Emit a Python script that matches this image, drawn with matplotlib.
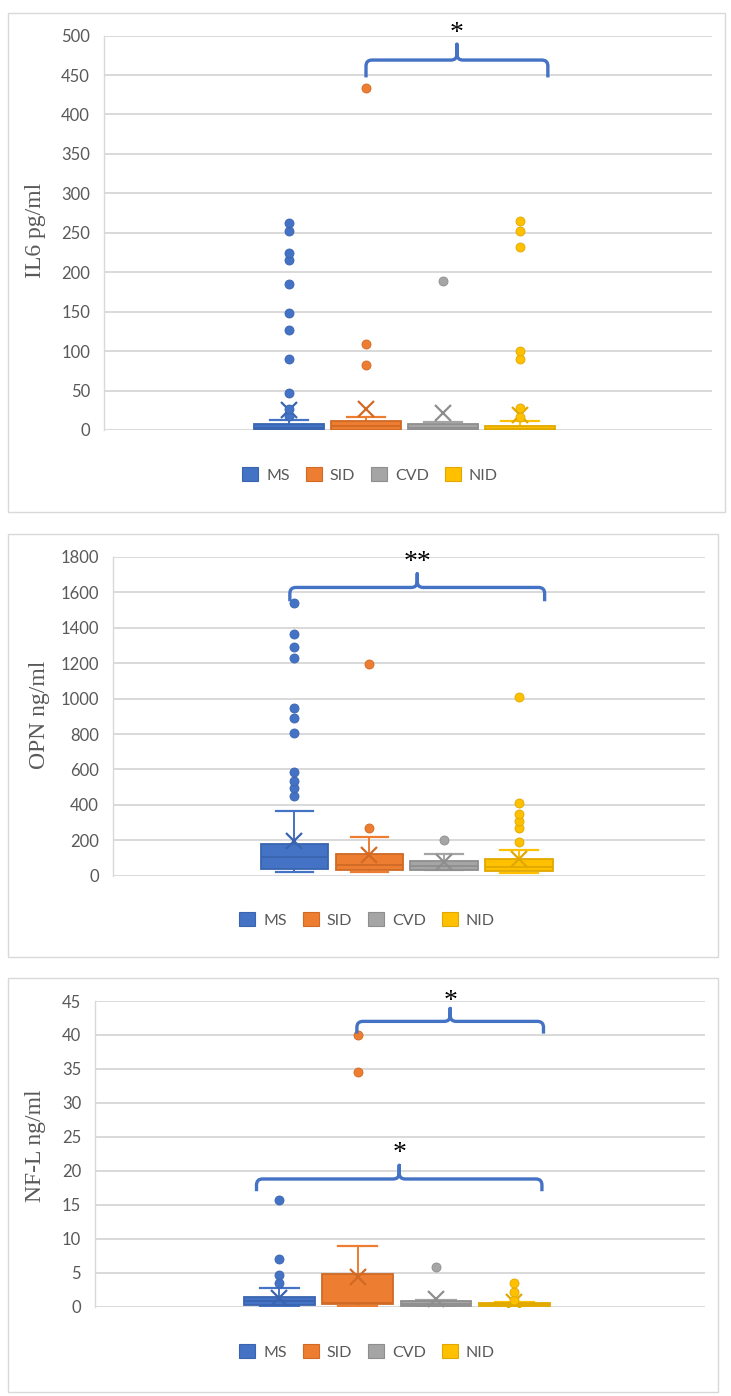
import matplotlib
matplotlib.use("Agg")
import matplotlib.pyplot as plt
from matplotlib.patches import Rectangle, Patch, PathPatch
from matplotlib.path import Path
from matplotlib.transforms import IdentityTransform

W, H = 731, 1396

groups = ["MS", "SID", "CVD", "NID"]
colors = ["#4472C4", "#ED7D31", "#A5A5A5", "#FFC000"]
edges = ["#3A64B0", "#D06A25", "#8E8E8E", "#E0A800"]

# ---- IL6 (pg/ml) ----
il6_whislo = [0, 0, 0, 0]
il6_q1 = [0.5, 0.5, 0.3, 0.3]
il6_med = [2, 5, 2, 1.5]
il6_q3 = [7.5, 11, 7.5, 5.5]
il6_whishi = [12.5, 17, 10.5, 11.5]
il6_mean = [25, 27, 21, 19]
il6_fliers = [
    [17.5, 27, 47, 90, 127, 148, 185, 216, 225, 252, 262],
    [82, 109, 433],
    [189],
    [17, 27.5, 90, 100, 232, 252, 265],
]

# ---- OPN (ng/ml) ----
opn_whislo = [19, 19, 30, 13]
opn_q1 = [38, 32, 32, 26]
opn_med = [103, 60, 56, 51]
opn_q3 = [178, 122, 85, 92]
opn_whishi = [366, 216, 120, 145]
opn_mean = [197, 116, 75, 92]
opn_fliers = [
    [451, 498, 535, 588, 806, 892, 948, 1230, 1292, 1367, 1540],
    [267, 1196],
    [199],
    [192, 267, 308, 346, 411, 1007],
]

# ---- NF-L (ng/ml) ----
nfl_whislo = [0.1, 0.1, 0.1, 0.1]
nfl_q1 = [0.25, 0.35, 0.1, 0.15]
nfl_med = [0.8, 0.6, 0.4, 0.35]
nfl_q3 = [1.5, 4.8, 0.8, 0.6]
nfl_whishi = [2.8, 8.9, 1.0, 0.75]
nfl_mean = [1.3, 4.3, 1.1, 0.7]
nfl_fliers = [
    [3.5, 4.7, 7.0, 15.7],
    [34.5, 40.0],
    [5.9],
    [1.0, 2.2, 3.5],
]

# significance brackets: (x_start, x_end, y_leg, y_bar, y_tip, label, y_label)
il6_brackets = [(2.0, 4.36, 447, 469, 489, "*", 503)]
opn_brackets = [(0.94, 4.34, 1550, 1628, 1705, "**", 1767)]
nfl_brackets = [(1.99, 4.37, 40.2, 42.0, 43.9, "*", 45.0),
                (0.71, 4.35, 17.0, 18.8, 20.8, "*", 22.5)]

panels = [
    dict(label="IL6 pg/ml", whislo=il6_whislo, q1=il6_q1, med=il6_med, q3=il6_q3,
         whishi=il6_whishi, mean=il6_mean, fliers=il6_fliers, ymax=500, step=50,
         plot=(104, 712, 35.6, 430), border=(8, 725, 13, 512), ylab=(35, 230),
         leg=(370, 475), xlim=(-1.4, 6.49), brackets=il6_brackets),
    dict(label="OPN ng/ml", whislo=opn_whislo, q1=opn_q1, med=opn_med, q3=opn_q3,
         whishi=opn_whishi, mean=opn_mean, fliers=opn_fliers, ymax=1800, step=200,
         plot=(113, 705, 557, 875.7), border=(8, 718, 534, 957), ylab=(40, 715),
         leg=(367, 920), xlim=(-1.42, 6.48), brackets=opn_brackets),
    dict(label="NF-L ng/ml", whislo=nfl_whislo, q1=nfl_q1, med=nfl_med, q3=nfl_q3,
         whishi=nfl_whishi, mean=nfl_mean, fliers=nfl_fliers, ymax=45, step=5,
         plot=(95, 705, 1001, 1306.7), border=(8, 718, 978, 1392), ylab=(35, 1146),
         leg=(367, 1352), xlim=(-1.35, 6.43), brackets=nfl_brackets),
]

fig = plt.figure(figsize=(W / 100, H / 100), dpi=100)
fig.patch.set_facecolor("white")

tick_font = "Lato"
grid_c = "#D9D9D9"
text_c = "#595959"

for p in panels:
    bl, br, bt, bb = p["border"]
    fig.patches.append(Rectangle((bl / W, 1 - bb / H), (br - bl) / W, (bb - bt) / H,
                                 transform=fig.transFigure, facecolor="none",
                                 edgecolor=grid_c, lw=1.0, zorder=-1))
    l, r, t, b = p["plot"]
    ax = fig.add_axes([l / W, 1 - b / H, (r - l) / W, (b - t) / H])
    ax.set_facecolor("none")
    ax.set_xlim(*p["xlim"])
    ax.set_ylim(0, p["ymax"])
    ax.set_yticks(range(0, p["ymax"] + 1, p["step"]))
    ax.yaxis.grid(True, color=grid_c, lw=1.4)
    ax.set_axisbelow(True)
    for s in ["top", "right", "bottom"]:
        ax.spines[s].set_visible(False)
    ax.spines["left"].set_color(grid_c)
    ax.spines["left"].set_linewidth(1.0)
    ax.tick_params(axis="y", length=0, pad=10, labelsize=12, labelcolor=text_c)
    for lab in ax.get_yticklabels():
        lab.set_fontfamily(tick_font)
    ax.set_xticks([])

    for i in range(4):
        stats = [dict(med=p["med"][i], q1=p["q1"][i], q3=p["q3"][i],
                      whislo=p["whislo"][i], whishi=p["whishi"][i],
                      mean=p["mean"][i], fliers=p["fliers"][i])]
        c, e = colors[i], edges[i]
        ax.bxp(stats, positions=[i + 1], widths=0.9, patch_artist=True,
               showmeans=True, manage_ticks=False,
               boxprops=dict(facecolor=c, edgecolor=e, lw=1.3, zorder=2),
               medianprops=dict(color=e, lw=1.3, zorder=3),
               whiskerprops=dict(color=c, lw=1.4, zorder=1.5),
               capprops=dict(color=c, lw=1.6, zorder=1.5),
               capwidths=0.5,
               meanprops=dict(marker="x", markeredgecolor=e, markersize=11,
                              markeredgewidth=1.6, zorder=4),
               flierprops=dict(marker="o", markerfacecolor=c, markeredgecolor=e,
                               markersize=6.5, markeredgewidth=0.6, zorder=4))

    fig.canvas.draw()
    for (x0, x1, yl, yb, ytip, txt, ytxt) in p["brackets"]:
        xm = (x0 + x1) / 2
        tr = ax.transData
        X0, YL = tr.transform((x0, yl))
        X1, YB = tr.transform((x1, yb))
        XM, YT = tr.transform((xm, ytip))
        rr = 6
        verts = [(X0, YL), (X0, YB - rr), (X0, YB), (X0 + rr, YB),
                 (XM - rr, YB), (XM, YB), (XM, YB + rr), (XM, YT),
                 (XM, YB + rr), (XM, YB), (XM + rr, YB),
                 (X1 - rr, YB), (X1, YB), (X1, YB - rr), (X1, YL)]
        codes = [Path.MOVETO, Path.LINETO, Path.CURVE3, Path.CURVE3,
                 Path.LINETO, Path.CURVE3, Path.CURVE3, Path.LINETO,
                 Path.LINETO, Path.CURVE3, Path.CURVE3,
                 Path.LINETO, Path.CURVE3, Path.CURVE3, Path.LINETO]
        patch = PathPatch(Path(verts, codes), transform=IdentityTransform(),
                          facecolor="none", edgecolor="#4472C4", lw=2.4,
                          capstyle="butt", joinstyle="round", zorder=5)
        fig.patches.append(patch)
        ax.text(xm, ytxt, txt, ha="center", va="center", fontsize=20,
                family="Liberation Serif", color="black", clip_on=False)

    fig.text(p["ylab"][0] / W, 1 - p["ylab"][1] / H, p["label"], rotation=90,
             ha="center", va="center", fontsize=17, family="Liberation Serif",
             color=text_c)

    handles = [Patch(facecolor=colors[i], edgecolor=edges[i], lw=0.8) for i in range(4)]
    fig.legend(handles, groups, loc="center",
               bbox_to_anchor=(p["leg"][0] / W, 1 - p["leg"][1] / H),
               ncol=4, frameon=False, handlelength=1.0, handleheight=1.0,
               columnspacing=1.0, handletextpad=0.5,
               prop=dict(family=tick_font, size=11.5), labelcolor=text_c)

fig.savefig("out.png", dpi=100, facecolor="white")
